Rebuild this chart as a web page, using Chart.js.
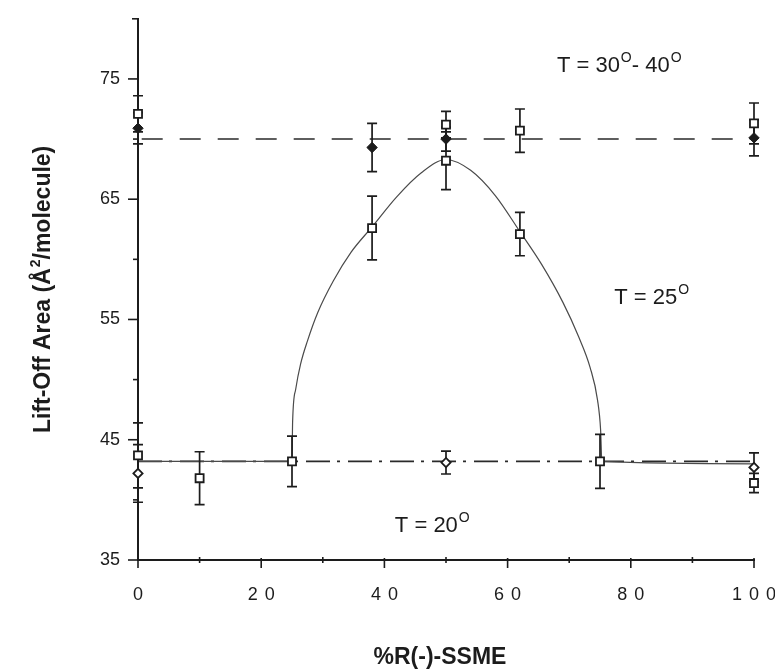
<!DOCTYPE html>
<html><head><meta charset="utf-8">
<script src="https://cdn.jsdelivr.net/npm/chart.js@4/dist/chart.umd.min.js"></script>
<style>html,body{margin:0;padding:0;background:#fff}#wrap{width:775px;height:669px}</style>
</head><body><div id="wrap"><canvas id="c" width="775" height="669"></canvas></div>
<script>
// ---- data ----
// T = 30-40: open squares
const xHigh1 = [0, 50, 62, 100];
const yHigh1 = [72.1, 71.2, 70.7, 71.3];
const eHigh1 = [1.5, 1.1, 1.8, 1.7];
// T = 30-40: filled diamonds
const xHigh2 = [0, 38, 50, 100];
const yHigh2 = [70.9, 69.3, 70.0, 70.1];
const eHigh2 = [1.3, 2.0, 1.0, 1.5];
// T = 25: open squares
const x25 = [0, 10, 25, 38, 50, 62, 75, 100];
const y25 = [43.7, 41.8, 43.2, 62.6, 68.2, 62.1, 43.2, 41.4];
const e25 = [2.7, 2.2, 2.1, 2.65, 2.4, 1.8, 2.25, 0.8];
// T = 20: open diamonds
const x20 = [0, 50, 100];
const y20 = [42.2, 43.1, 42.7];
const e20 = [2.4, 0.95, 1.2];
// guide lines
const fitHighX = [0.6, 100];
const fitHighY = [70.0, 70.0];
const fit20X = [0, 100];
const fit20Y = [43.2, 43.2];
// T = 25 curve
const curveX = [0, 25, 25.1, 25.6, 26.4, 27.5, 29.2, 31.7, 34.6, 38, 42, 46, 50, 54, 58, 62, 65.5, 69, 71.5, 73.4, 74.6, 75.1, 75.3, 100];
const curveY = [43.2, 43.2, 46.5, 49.2, 51.3, 53.2, 55.6, 58.2, 60.6, 62.7, 65.2, 67.2, 68.3, 67.4, 65.3, 62.3, 59.6, 56.4, 53.6, 51.0, 48.3, 45.8, 43.2, 43.0];
// ticks
const xTickLabels = [0, 20, 40, 60, 80, 100];
const yTickLabels = [35, 45, 55, 65, 75];

const ink = '#1c1c1c';
const FONT = '"Liberation Sans", Arial, Helvetica, sans-serif';
function pts(xs, ys) { return xs.map((x, i) => ({x: x, y: ys[i]})); }

const errorBars = {
  id: 'errorBars',
  beforeDatasetDraw(chart, args) {
    if (args.index !== 3) return;
    const ctx = chart.ctx, xs = chart.scales.x, ys = chart.scales.y;
    ctx.save();
    ctx.strokeStyle = ink; ctx.lineWidth = 1.7;
    chart.data.datasets.forEach(ds => {
      if (!ds.err) return;
      ds.data.forEach((p, i) => {
        const e = ds.err[i];
        const px = xs.getPixelForValue(p.x);
        const yt = ys.getPixelForValue(p.y + e), yb = ys.getPixelForValue(p.y - e);
        ctx.beginPath();
        ctx.moveTo(px, yt); ctx.lineTo(px, yb);
        ctx.moveTo(px - 5, yt); ctx.lineTo(px + 5, yt);
        ctx.moveTo(px - 5, yb); ctx.lineTo(px + 5, yb);
        ctx.stroke();
      });
    });
    ctx.restore();
  }
};

function drawRich(ctx, segs, x, y, size, weight) {
  let cx = x;
  segs.forEach(s => {
    if (s.sup) {
      ctx.font = `${weight} ${Math.round(size * 0.62)}px ${FONT}`;
      ctx.fillText(s.t, cx + 1, y - size * 0.44);
      cx += ctx.measureText(s.t).width + 1;
    } else {
      ctx.font = `${weight} ${size}px ${FONT}`;
      ctx.fillText(s.t, cx, y);
      cx += ctx.measureText(s.t).width;
    }
  });
  return cx - x;
}
function richWidth(ctx, segs, size, weight) {
  let w = 0;
  segs.forEach(s => {
    ctx.font = s.sup ? `${weight} ${Math.round(size * 0.62)}px ${FONT}` : `${weight} ${size}px ${FONT}`;
    w += ctx.measureText(s.t).width + (s.sup ? 1 : 0);
  });
  return w;
}

const decor = {
  id: 'decor',
  afterDraw(chart) {
    const ctx = chart.ctx, xs = chart.scales.x, ys = chart.scales.y;
    const left = chart.chartArea.left, bottom = chart.chartArea.bottom;
    ctx.save();
    ctx.strokeStyle = ink; ctx.fillStyle = ink; ctx.lineWidth = 1.6;
    // y ticks
    ys.ticks.forEach(t => {
      const py = ys.getPixelForValue(t.value);
      let len = 5;
      if (yTickLabels.includes(t.value)) len = 10;
      else if (t.value === ys.max) len = 6;
      ctx.beginPath(); ctx.moveTo(left - len, py); ctx.lineTo(left, py); ctx.stroke();
    });
    // x ticks
    xs.ticks.forEach(t => {
      const px = xs.getPixelForValue(t.value);
      ctx.beginPath();
      if (xTickLabels.includes(t.value)) { ctx.moveTo(px, bottom - 2); ctx.lineTo(px, bottom + 8); }
      else { ctx.moveTo(px, bottom - 3); ctx.lineTo(px, bottom + 3); }
      ctx.stroke();
    });
    // x tick labels (spaced digits)
    ctx.font = `18px ${FONT}`;
    ctx.textBaseline = 'middle'; ctx.textAlign = 'left';
    const sp = 7;
    ctx.letterSpacing = sp + 'px';
    xTickLabels.forEach(v => {
      const s = String(v);
      const w = ctx.measureText(s).width - sp;
      ctx.fillText(s, xs.getPixelForValue(v) - w / 2, bottom + 35);
    });
    ctx.letterSpacing = '0px';
    // x title
    ctx.textBaseline = 'alphabetic';
    ctx.font = `bold 23px ${FONT}`;
    ctx.textAlign = 'center';
    ctx.fillText('%R(-)-SSME', 440, 664);
    ctx.textAlign = 'left';
    // y title (rotated)
    const ySegs = [{t: 'Lift-Off Area (Å'}, {t: '2', sup: true}, {t: '/molecule)'}];
    const wY = richWidth(ctx, ySegs, 23, 'bold');
    ctx.save();
    ctx.translate(50, (chart.chartArea.top + bottom) / 2);
    ctx.rotate(-Math.PI / 2);
    drawRich(ctx, ySegs, -wY / 2, 0, 23, 'bold');
    ctx.restore();
    // annotations
    const ann = [
      {segs: [{t: 'T = 30'}, {t: 'O', sup: true}, {t: '- 40'}, {t: 'O', sup: true}], x: 68.0, y: 75.6},
      {segs: [{t: 'T = 25'}, {t: 'O', sup: true}], x: 77.3, y: 56.3},
      {segs: [{t: 'T = 20'}, {t: 'O', sup: true}], x: 41.7, y: 37.35}
    ];
    ann.forEach(a => drawRich(ctx, a.segs, xs.getPixelForValue(a.x), ys.getPixelForValue(a.y), 22, 'normal'));
    ctx.restore();
  }
};

const markerBase = {showLine: false, clip: false, pointBorderColor: ink, pointHoverRadius: 0};
new Chart(document.getElementById('c'), {
  type: 'scatter',
  data: {
    datasets: [
      Object.assign({}, markerBase, {label: 'T=30-40 (squares)', data: pts(xHigh1, yHigh1), err: eHigh1,
        pointStyle: 'rect', pointRadius: 5.7, pointBackgroundColor: '#fff', pointBorderWidth: 1.8}),
      Object.assign({}, markerBase, {label: 'T=30-40 (diamonds)', data: pts(xHigh2, yHigh2), err: eHigh2,
        pointStyle: 'rectRot', pointRadius: 5.2, pointBackgroundColor: ink, pointBorderWidth: 1}),
      Object.assign({}, markerBase, {label: 'T=25', data: pts(x25, y25), err: e25,
        pointStyle: 'rect', pointRadius: 5.7, pointBackgroundColor: '#fff', pointBorderWidth: 1.8}),
      Object.assign({}, markerBase, {label: 'T=20', data: pts(x20, y20), err: e20,
        pointStyle: 'rectRot', pointRadius: 4.6, pointBackgroundColor: '#fff', pointBorderWidth: 1.8}),
      {label: 'T=25 curve', data: pts(curveX, curveY), showLine: true, pointRadius: 0, clip: false,
        borderColor: '#4a4a4a', borderWidth: 1.2, cubicInterpolationMode: 'monotone'},
      {label: 'T=30-40 line', data: pts(fitHighX, fitHighY), showLine: true, pointRadius: 0,
        borderColor: '#2a2a2a', borderWidth: 1.6, borderDash: [21, 17]},
      {label: 'T=20 line', data: pts(fit20X, fit20Y), showLine: true, pointRadius: 0,
        borderColor: '#2a2a2a', borderWidth: 1.6, borderDash: [24, 7, 3, 8]}
    ]
  },
  options: {
    responsive: false, animation: false, devicePixelRatio: 1,
    layout: {padding: {top: 17, right: 21, left: 0, bottom: 0}},
    plugins: {legend: {display: false}, tooltip: {enabled: false}},
    scales: {
      x: {
        type: 'linear', min: 0, max: 100,
        ticks: {display: false, stepSize: 10, autoSkip: false},
        grid: {display: false},
        border: {display: true, color: ink, width: 2},
        afterFit: s => { s.height = 109; }
      },
      y: {
        type: 'linear', min: 35, max: 80,
        ticks: {stepSize: 5, autoSkip: false, padding: 8, color: ink,
          font: {family: FONT, size: 18},
          callback: v => yTickLabels.includes(v) ? String(v) : ''},
        grid: {display: true, drawOnChartArea: false, drawTicks: true, tickLength: 10, color: 'rgba(0,0,0,0)'},
        border: {display: true, color: ink, width: 2},
        afterFit: s => { s.width = 138; }
      }
    }
  },
  plugins: [errorBars, decor]
});
</script>
</body></html>
